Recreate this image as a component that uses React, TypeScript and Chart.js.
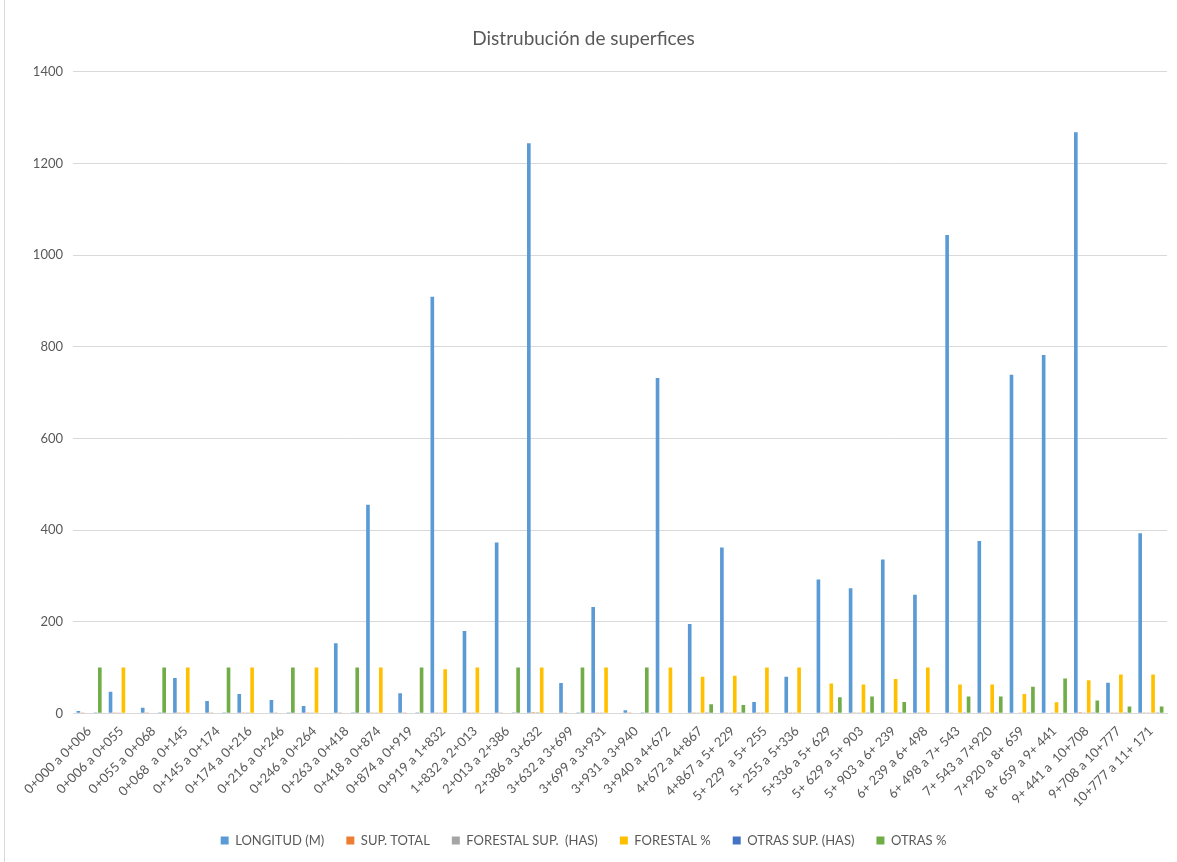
import { useEffect, useRef } from "react";
import { Chart, registerables } from "chart.js";

Chart.register(...registerables);

const categories = [
  "0+000 a 0+006", "0+006 a 0+055", "0+055 a 0+068", "0+068  a 0+145", "0+145 a 0+174",
  "0+174 a 0+216", "0+216 a 0+246", "0+246 a 0+264", "0+263 a 0+418", "0+418 a 0+874",
  "0+874 a 0+919", "0+919 a 1+832", "1+832 a 2+013", "2+013 a 2+386", "2+386 a 3+632",
  "3+632 a 3+699", "3+699 a 3+931", "3+931 a 3+940", "3+940 a 4+672", "4+672 a 4+867",
  "4+867 a 5+ 229", "5+ 229  a 5+ 255", "5+ 255 a 5+336", "5+336 a 5+ 629", "5+ 629 a 5+ 903",
  "5+ 903 a 6+ 239", "6+ 239 a 6+ 498", "6+ 498 a 7+ 543", "7+ 543 a 7+920", "7+920 a 8+ 659",
  "8+ 659 a 9+ 441", "9+ 441 a  10+708", "9+708 a 10+777", "10+777 a 11+ 171",
];

const longitud = [
  5, 47, 12, 77, 27, 42, 29, 16, 153, 455,
  44, 909, 180, 373, 1244, 66, 232, 7, 732, 195,
  362, 25, 80, 292, 273, 336, 259, 1044, 376, 739,
  782, 1268, 67, 393,
];

const supTotal = [
  0.01, 0.09, 0.02, 0.15, 0.05, 0.08, 0.06, 0.03, 0.31, 0.91,
  0.09, 1.82, 0.36, 0.75, 2.49, 0.13, 0.46, 0.01, 1.46, 0.39,
  0.72, 0.05, 0.16, 0.58, 0.55, 0.67, 0.52, 2.09, 0.75, 1.48,
  1.56, 2.54, 0.13, 0.79,
];

const forestalSup = [
  0, 0.09, 0, 0.15, 0, 0.08, 0, 0.03, 0, 0.91,
  0, 1.82, 0.36, 0, 2.49, 0, 0.46, 0, 1.46, 0.31,
  0.59, 0.05, 0.16, 0.38, 0.35, 0.5, 0.52, 1.32, 0.47, 0.62,
  0.37, 1.83, 0.11, 0.67,
];

const forestalPct = [
  0, 100, 0, 100, 0, 100, 0, 100, 0, 100,
  0, 96, 100, 0, 100, 0, 100, 0, 100, 80,
  82, 100, 100, 65, 63, 75, 100, 63, 63, 42,
  24, 72, 85, 85,
];

const otrasSup = [
  0.01, 0, 0.02, 0, 0.05, 0, 0.06, 0, 0.31, 0,
  0.09, 0, 0, 0.75, 0, 0.13, 0, 0.01, 0, 0.08,
  0.13, 0, 0, 0.2, 0.2, 0.17, 0, 0.77, 0.28, 0.86,
  1.19, 0.71, 0.02, 0.12,
];

const otrasPct = [
  100, 0, 100, 0, 100, 0, 100, 0, 100, 0,
  100, 0, 0, 100, 0, 100, 0, 100, 0, 20,
  18, 0, 0, 35, 37, 25, 0, 37, 37, 58,
  76, 28, 15, 15,
];

const seriesNames = [
  "LONGITUD (M)",
  "SUP. TOTAL",
  "FORESTAL SUP.  (HAS)",
  "FORESTAL %",
  "OTRAS SUP. (HAS)",
  "OTRAS %",
];

const seriesColors = ["#5B9BD5", "#ED7D31", "#A5A5A5", "#FFC000", "#4472C4", "#70AD47"];

const yMin = 0;
const yMax = 1400;
const yStep = 200;

const FONT = "Lato, 'Open Sans', sans-serif";
const TEXT = "#595959";
const GRID = "#d9d9d9";

export default function App() {
  const canvasRef = useRef<HTMLCanvasElement | null>(null);

  useEffect(() => {
    if (!canvasRef.current) return;
    const values = [longitud, supTotal, forestalSup, forestalPct, otrasSup, otrasPct];
    const chart = new Chart(canvasRef.current, {
      type: "bar",
      data: {
        labels: categories,
        datasets: seriesNames.map((name, i) => ({
          label: name,
          data: values[i],
          backgroundColor: seriesColors[i],
          borderWidth: 0,
          categoryPercentage: 0.8,
          barPercentage: 0.85,
        })),
      },
      options: {
        animation: false,
        responsive: false,
        layout: { padding: { left: 0, right: 10, top: 0, bottom: 5 } },
        plugins: {
          title: {
            display: true,
            text: "Distrubución de superfices",
            color: TEXT,
            font: { family: FONT, size: 19, weight: "normal" },
            padding: { top: 27, bottom: 22 },
          },
          legend: {
            position: "bottom",
            labels: {
              boxWidth: 8,
              boxHeight: 8,
              color: TEXT,
              font: { family: FONT, size: 13 },
              padding: 22,
            },
          },
          tooltip: { enabled: false },
        },
        scales: {
          x: {
            grid: { display: false },
            border: { color: GRID, width: 1 },
            ticks: {
              color: TEXT,
              font: { family: FONT, size: 13 },
              minRotation: 45,
              maxRotation: 45,
              autoSkip: false,
              padding: 2,
            },
          },
          y: {
            min: yMin,
            max: yMax,
            ticks: {
              stepSize: yStep,
              color: TEXT,
              font: { family: FONT, size: 13 },
              padding: 10,
              callback: (v: any) => String(v),
            },
            grid: { color: GRID, drawTicks: false },
            border: { display: false },
            afterFit: (scale: any) => {
              scale.width = 73;
            },
          },
        },
      },
    });
    return () => chart.destroy();
  }, []);

  return (
    <div style={{ position: "absolute", left: 0, top: 0, width: 1177, height: 862, background: "#fff" }}>
      <canvas ref={canvasRef} width={1177} height={862} />
      {/* chart frame edge on the left side */}
      <div style={{ position: "absolute", left: 4, top: 0, width: 1, height: 862, background: GRID }} />
    </div>
  );
}
